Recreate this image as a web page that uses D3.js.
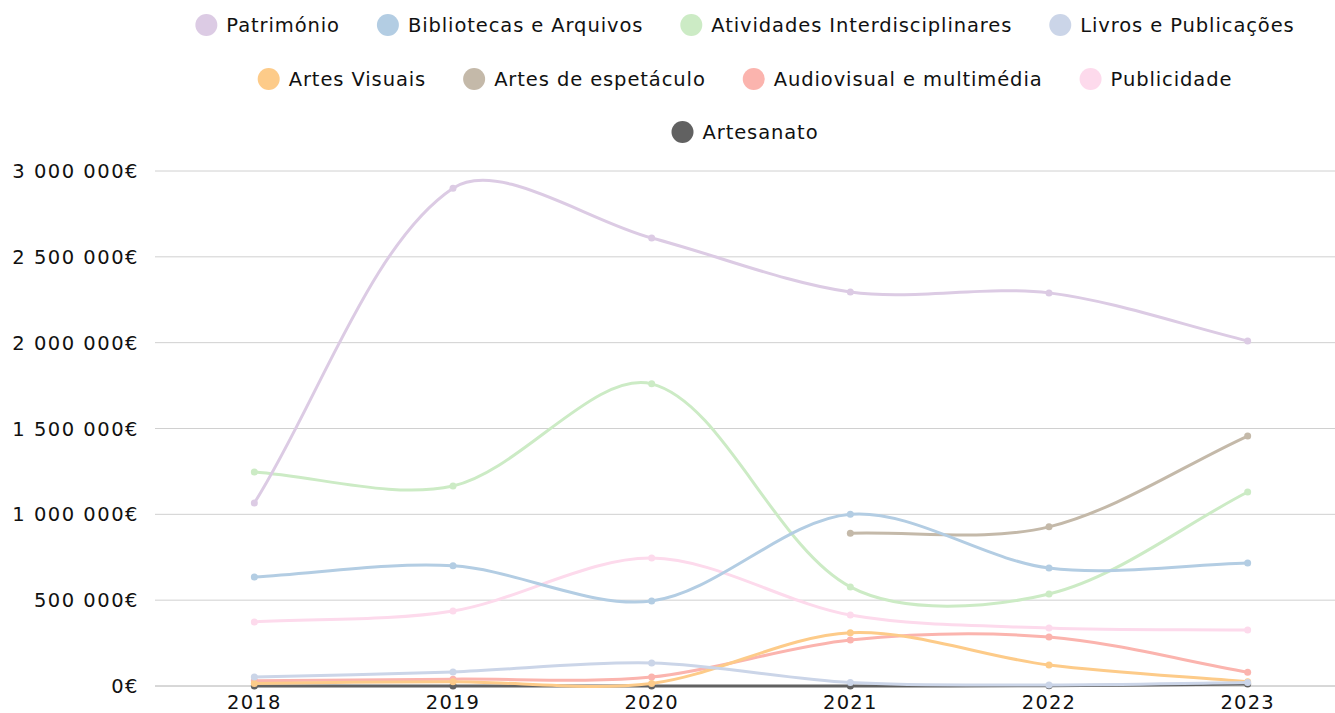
<!DOCTYPE html>
<html><head><meta charset="utf-8">
<script src="https://cdn.jsdelivr.net/npm/d3@7"></script>
<style>
html,body{margin:0;padding:0;background:#fff;}
svg{display:block;font-family:"DejaVu Sans",sans-serif;}
</style></head>
<body><svg id="c" width="1335" height="713"></svg>
<script>
const years = ["2018","2019","2020","2021","2022","2023"];
const seriesNames = ["Património","Bibliotecas e Arquivos","Atividades Interdisciplinares","Livros e Publicações","Artes Visuais","Artes de espetáculo","Audiovisual e multimédia","Publicidade","Artesanato"];
const seriesColors = ["#dccbe4","#b3cde3","#ccebc5","#cbd5e8","#fdcb89","#c4b9a9","#fbb4ae","#fddaec","#616161"];
const patrimonio = [1066000, 2900000, 2610000, 2295000, 2290000, 2010000];
const bibliotecas = [635000, 700000, 495000, 1000000, 687000, 716000];
const atividades = [1247000, 1165000, 1760000, 577000, 536000, 1130000];
const livros = [52000, 82000, 134000, 20000, 6000, 20000];
const artesVisuais = [15000, 25000, 15000, 310000, 122000, 25000];
const artesEspetaculo = [null, null, null, 890000, 927000, 1456000];
const audiovisual = [30000, 40000, 52000, 268000, 285000, 80000];
const publicidade = [373000, 437000, 745000, 413000, 338000, 326000];
const artesanato = [0, 0, 0, 0, 2000, 12000];
const yTicks = [0, 500000, 1000000, 1500000, 2000000, 2500000, 3000000];
const allValues = [patrimonio, bibliotecas, atividades, livros, artesVisuais, artesEspetaculo, audiovisual, publicidade, artesanato];

(function(){
const svg = d3.select("#c");
const pL = 155, pR = 1335, pT = 171, pB = 686;
const FS = 19.5;
const x = d3.scalePoint().domain(years).range([pL, 1347]).padding(0.5);
const y = d3.scaleLinear().domain([0, 3000000]).range([pB, pT]);
const fmt = v => d3.format(",")(v).replace(/,/g, " ") + "€";

svg.append("g").selectAll("line").data(yTicks).join("line")
  .attr("x1", pL).attr("x2", pR)
  .attr("y1", d => y(d)).attr("y2", d => y(d))
  .attr("stroke", d => d === 0 ? "#b0b0b0" : "#d0d0d0").attr("stroke-width", 1);
svg.append("g").selectAll("text").data(yTicks).join("text")
  .attr("x", 139).attr("y", d => y(d)).attr("dy", "0.36em")
  .attr("text-anchor", "end").attr("font-size", FS).attr("letter-spacing", 1.5).attr("fill", "#111")
  .text(fmt);
svg.append("g").selectAll("text").data(years).join("text")
  .attr("x", d => x(d)).attr("y", 709)
  .attr("text-anchor", "middle").attr("font-size", FS).attr("letter-spacing", 1.2).attr("fill", "#111")
  .text(d => d);

function ctrl(pts, i, t) {
  const cur = pts[i], prev = pts[i - 1] || cur, next = pts[i + 1] || cur;
  const d01 = Math.hypot(cur[0] - prev[0], cur[1] - prev[1]);
  const d12 = Math.hypot(next[0] - cur[0], next[1] - cur[1]);
  let s01 = d01 / (d01 + d12), s12 = d12 / (d01 + d12);
  if (isNaN(s01)) s01 = 0; if (isNaN(s12)) s12 = 0;
  const fa = t * s01, fb = t * s12;
  return {
    prev: [cur[0] - fa * (next[0] - prev[0]), cur[1] - fa * (next[1] - prev[1])],
    next: [cur[0] + fb * (next[0] - prev[0]), cur[1] + fb * (next[1] - prev[1])]
  };
}
function splinePath(pts, t) {
  const p = d3.path();
  pts.forEach((pt, i) => {
    if (i === 0) { p.moveTo(pt[0], pt[1]); return; }
    const cp1 = ctrl(pts, i - 1, t).next;
    const cp2 = ctrl(pts, i, t).prev;
    p.bezierCurveTo(cp1[0], cp1[1], cp2[0], cp2[1], pt[0], pt[1]);
  });
  return p.toString();
}

const gLines = svg.append("g");
for (let s = seriesNames.length - 1; s >= 0; s--) {
  const vals = allValues[s];
  const pts = years.map((yr, i) => vals[i] == null ? null : [x(yr), y(vals[i])]).filter(d => d);
  const g = gLines.append("g");
  g.append("path").attr("d", splinePath(pts, 0.32)).attr("fill", "none")
    .attr("stroke", seriesColors[s]).attr("stroke-width", 3);
  g.selectAll("circle").data(pts).join("circle")
    .attr("cx", d => d[0]).attr("cy", d => d[1]).attr("r", 3.5)
    .attr("fill", seriesColors[s]);
}

const rows = [[0,1,2,3],[4,5,6,7],[8]];
const rowY = [25, 79, 132];
const legend = svg.append("g");
const cx = (pL + pR) / 2;
rows.forEach((row, ri) => {
  const items = row.map(i => {
    const g = legend.append("g");
    g.append("circle").attr("r", 11).attr("cx", 11).attr("cy", 0).attr("fill", seriesColors[i]);
    const t = g.append("text").attr("x", 31).attr("y", 0).attr("dy", "0.36em")
      .attr("font-size", FS).attr("letter-spacing", 0.9).attr("fill", "#111").text(seriesNames[i]);
    const w = 31 + t.node().getComputedTextLength();
    return {g, w};
  });
  const gap = 37;
  const total = d3.sum(items, d => d.w) + gap * (items.length - 1);
  let xx = cx - total / 2;
  items.forEach(it => { it.g.attr("transform", `translate(${xx},${rowY[ri]})`); xx += it.w + gap; });
});
})();
</script></body></html>
